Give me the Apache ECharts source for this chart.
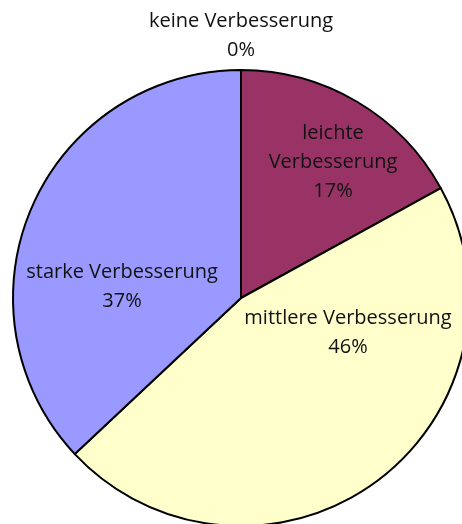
<!DOCTYPE html>
<html>
<head>
<meta charset="utf-8">
<script src="https://cdn.jsdelivr.net/npm/echarts@6/dist/echarts.min.js"></script>
<style>
  html, body { margin: 0; padding: 0; background: #fff; }
  #chartDom { width: 462px; height: 524px; }
</style>
</head>
<body>
<div id="chartDom"></div>
<script>
// Daten
const categories = ["keine Verbesserung", "leichte\nVerbesserung", "mittlere Verbesserung", "starke Verbesserung"];
const shares = [0, 17, 46, 37];
const colors = ["#ffffff", "#993366", "#ffffcc", "#9999ff"];
// Label-Positionen (wie im Original von Hand gesetzt)
const labelSpots = [[241, 36], [333, 162], [348, 333], [122, 287]];

let myChart = echarts.init(document.getElementById("chartDom"));
myChart.setOption({
  animation: false,
  series: [{
    type: "pie",
    center: [241, 298],
    radius: 228,
    startAngle: 90,
    clockwise: true,
    minShowLabelAngle: 0,
    avoidLabelOverlap: false,
    itemStyle: { borderColor: "#000", borderWidth: 2 },
    label: {
      show: true,
      position: "inside",
      formatter: "{b}\n{d}%",
      color: "#111",
      fontFamily: "Open Sans",
      fontSize: 20,
      lineHeight: 29,
      align: "center"
    },
    labelLine: { show: false },
    labelLayout: function (p) {
      const s = labelSpots[p.dataIndex];
      return { x: s[0], y: s[1], align: "center", verticalAlign: "middle", hideOverlap: false };
    },
    emphasis: { disabled: true },
    data: categories.map((name, i) => ({
      name: name,
      value: shares[i],
      itemStyle: { color: colors[i] }
    }))
  }]
});
</script>
</body>
</html>
